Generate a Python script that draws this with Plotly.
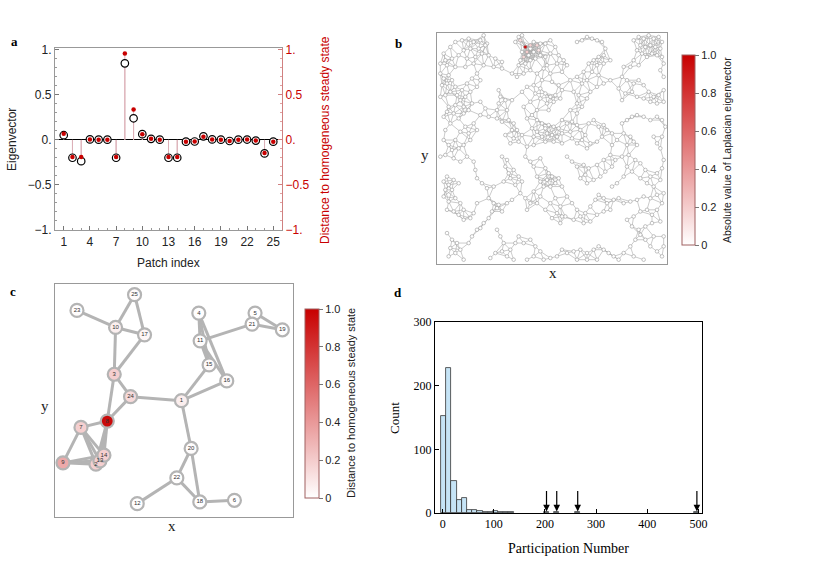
import numpy as np
import plotly.graph_objects as go

W, H = 830, 562
def px(x): return x / W
def py(y): return 1 - y / H

# ---------------- Panel a data ----------------
patch_index = list(range(1, 26))
eigenvector = [0.052, -0.198, -0.236, 0.005, 0.003, 0.003, -0.198, 0.85, 0.24, 0.064,
               0.012, 0.003, -0.198, -0.198, -0.02, -0.018, 0.04, 0.005, 0.003, -0.012,
               0.003, 0.004, -0.008, -0.15, -0.02]
distance = [0.067, -0.19, -0.19, 0.005, 0.003, 0.003, -0.19, 0.96, 0.337, 0.064,
            0.012, 0.003, -0.19, -0.19, -0.02, -0.018, 0.034, 0.005, 0.003, -0.012,
            0.003, 0.004, -0.008, -0.145, -0.02]
a_xticks = [1, 4, 7, 10, 13, 16, 19, 22, 25]
a_yticks = [-1, -0.5, 0, 0.5, 1]
a_yticktext = ["\u22121.", "\u22120.5", "0.", "0.5", "1."]

b_nodes = [
 (40,70),(60,50),(75,35),(95,30),(115,25),(130,35),(150,30),(160,15),(165,45),(145,55),(120,55),(100,60),
 (85,75),(65,85),(45,90),(110,85),(135,80),(155,70),(105,110),(130,100),(75,110),(50,105),(30,100),
 (170,40),(175,75),(195,85),(215,95),(215,115),(190,110),(160,105),
 (255,35),(265,20),(275,15),(270,30),(285,50),(300,45),(310,35),(320,45),(330,40),(325,60),(310,65),
 (295,75),(280,80),(270,90),(265,105),(285,100),(300,90),(315,85),(330,75),(290,65),(275,65),(300,55),
 (345,40),(360,30),(375,50),(360,70),(345,80),(385,75),(400,90),(410,105),(395,125),(380,100),(350,105),
 (440,35),(455,30),(470,20),(485,25),(500,30),(515,35),(525,55),(520,75),(505,80),(490,90),(475,100),
 (500,105),(520,100),(540,90),
 (610,30),(625,20),(640,25),(655,15),(670,25),(685,20),(695,35),(690,55),(675,50),(660,45),(645,50),
 (630,45),(620,60),(635,70),(650,80),(665,70),(680,75),(695,80),(610,90),(600,110),(625,105),(700,100),(580,110),
 (30,130),(40,145),(55,135),(35,165),(50,160),(65,150),(75,170),(60,185),(45,195),(30,200),(80,195),
 (95,180),(90,210),(105,200),(120,185),(110,160),(125,145),(140,130),(150,150),(140,170),(125,220),
 (100,230),(75,225),(55,230),
 (205,180),(210,200),(205,220),(225,210),(245,210),(150,215),(165,235),(200,240),(230,240),
 (245,130),(260,140),(280,130),(300,120),(320,130),(335,150),(330,175),(345,190),(360,200),(375,195),
 (390,205),(370,215),(350,220),(330,205),(315,190),(310,165),(290,170),(275,185),(300,215),(280,230),
 (320,240),(395,180),(385,165),(365,155),(360,130),(340,115),(355,240),
 (420,150),(440,140),(455,160),(470,150),(430,185),(445,195),(440,220),(455,230),(470,205),(480,185),
 (500,170),(520,160),(540,150),(505,135),(485,125),(460,125),(420,240),(440,250),
 (575,140),(590,150),(610,160),(625,150),(640,165),(655,185),(670,200),(685,195),(700,180),(700,215),
 (680,220),(660,215),(640,205),(620,200),(605,185),(585,190),(575,210),(565,175),(700,140),(690,120),
 (40,260),(50,245),(70,250),(85,265),(100,250),(115,240),(60,280),(45,300),(40,330),(55,345),(75,330),
 (90,305),(105,290),(115,310),(120,330),(100,345),(85,355),(65,360),(130,280),(140,300),
 (150,255),(175,260),(200,265),(215,275),(235,270),(250,280),(260,300),(250,325),(240,340),(265,335),
 (275,315),(245,300),(225,315),
 (290,265),(305,255),(320,270),(335,280),(345,295),(355,285),(370,290),(385,295),(395,310),(380,320),
 (365,315),(350,310),(335,320),(320,305),(305,295),(310,320),(345,335),(370,335),(395,270),(395,340),
 (290,350),(310,345),
 (410,280),(425,275),(440,285),(450,300),(465,315),(455,330),(440,340),(425,325),(420,305),(475,280),
 (490,270),(505,290),(520,285),(530,300),(515,320),(500,335),(480,340),(470,355),(545,310),(560,330),(545,345),
 (575,280),(590,270),(605,260),(620,255),(640,260),(660,270),(680,260),(695,270),(705,290),(695,320),
 (680,340),(670,320),(600,320),(610,335),(590,345),(580,310),(620,345),(690,355),
 (30,380),(45,375),(70,385),(90,395),(110,380),(130,395),(135,420),(140,445),(50,440),(40,455),(55,465),
 (70,450),(85,460),(65,480),(45,480),
 (215,380),(230,390),(225,410),(235,430),(250,420),(240,445),(265,440),(275,455),(255,465),(220,455),
 (190,470),(170,475),(155,460),
 (285,380),(300,395),(310,410),(330,385),(345,415),(355,430),(350,450),(365,440),(375,460),(360,470),
 (340,470),(330,455),(320,440),(385,445),(395,470),
 (410,380),(425,395),(440,410),(460,405),(475,415),(465,435),(450,445),(470,460),(490,450),(510,440),
 (525,425),(545,410),(555,390),(540,375),(520,390),(500,405),
 (575,380),(595,375),(615,390),(630,400),(645,420),(660,440),(680,430),(695,415),(700,390),(690,450),
 (670,470),(650,460),(630,445),(605,425),(590,410),(580,440),(560,460),(545,470),
 (40,500),(55,515),(75,505),(90,520),(100,540),(85,555),(70,545),(50,540),(100,570),(120,565),(130,550),(140,520),
 (175,505),(190,520),(200,535),(185,545),(205,525),(215,545),(175,565),(160,580),(150,595),(230,520),(245,510),
 (270,490),(285,505),(300,520),(320,520),(330,500),(310,485),(290,540),(345,540),(360,520),(375,505),
 (390,530),(380,550),(365,565),(395,560),
 (410,500),(425,520),(440,540),(450,560),(465,550),(480,530),(495,510),(505,495),(520,505),(530,520),
 (550,510),(540,540),(520,545),(500,555),(480,575),(460,580),(430,570),(405,560),(390,580),
 (565,505),(580,520),(600,515),(620,510),(640,500),(660,505),(680,495),(700,490),(695,520),(680,540),
 (665,555),(650,540),(630,545),(610,560),(590,570),(605,590),(625,600),(645,590),(665,580),(690,575),
 (50,610),(65,630),(80,640),(60,655),(75,670),(90,660),(55,680),(100,690),(115,640),(125,620),(140,600),
 (200,600),(210,620),(220,640),(215,665),(230,680),(250,690),(240,660),(255,640),(180,685),(195,670),
 (265,620),(280,640),(300,630),(315,650),(330,665),(310,680),(290,690),(340,690),(360,685),(380,680),(395,660),
 (410,670),(430,665),(450,660),(470,670),(490,660),(505,650),(520,660),(535,670),(550,680),(500,690),
 (470,690),(440,690),
 (565,690),(580,670),(600,650),(615,630),(630,615),(645,630),(660,650),(680,665),(695,680),(700,650),
 (700,620),(670,620),(610,680),(640,690),
]
# nodes with nonzero |eigenvector| (index into b_nodes) and their values
b_hot_nodes = [34, 35, 37, 33, 49, 42, 39]
b_hot_values = [0.95, 0.18, 0.15, 0.12, 0.2, 0.15, 0.1]
b_link_radius = 40

# ---------------- Panel c data ----------------
c_labels = list(range(1, 26))
c_x = [455, 198, 253, 507, 676, 614, 153, 232, 99, 257, 511, 322, 210, 222, 538, 591, 344, 510, 758, 484, 667, 441, 141, 302, 314]
c_y = [362, 552, 283, 100, 100, 660, 442, 423, 548, 143, 183, 670, 542, 525, 255, 303, 165, 665, 150, 505, 133, 593, 92, 350, 45]
c_edges = [(23, 10), (25, 10), (25, 17), (10, 17), (10, 3), (17, 3), (3, 24), (3, 8), (24, 8), (24, 1),
           (1, 15), (1, 16), (1, 20), (15, 11), (16, 11), (4, 11), (4, 15), (4, 16), (11, 21), (21, 5),
           (21, 19), (5, 19), (20, 22), (20, 18), (22, 18), (22, 12), (18, 6), (7, 8), (7, 9), (7, 14),
           (7, 13), (7, 2), (8, 14), (8, 13), (8, 2), (9, 14), (9, 13), (9, 2), (14, 13), (14, 2), (2, 13)]

# ---------------- Panel d data ----------------
d_bin_start = -3.3
d_bin_width = 10.15
d_counts = [152, 228, 51, 21, 23, 5, 5, 3, 2, 2, 3, 1, 1, 1]
d_far_x = [203, 223, 264, 497]
d_far_counts = [1, 1, 1, 1]
d_arrow_x = [203, 223, 264, 497]

fig = go.Figure()
SANS = "Liberation Sans"
SERIF = "Liberation Serif"
RED = "#c80000"

# ---- Panel a traces ----
sx, sy = [], []
for i, v in zip(patch_index, eigenvector):
    sx += [i, i, None]; sy += [0, v, None]
for i, v in zip(patch_index, distance):
    sx += [i, i, None]; sy += [0, v, None]
fig.add_trace(go.Scatter(x=sx, y=sy, mode="lines", line=dict(color="#dcb0b8", width=1),
                         xaxis="x", yaxis="y", hoverinfo="skip", showlegend=False))
fig.add_trace(go.Scatter(x=patch_index, y=eigenvector, mode="markers",
                         marker=dict(symbol="circle", size=7.5, color="white", line=dict(color="black", width=1.2)),
                         xaxis="x", yaxis="y", showlegend=False))
fig.add_trace(go.Scatter(x=patch_index, y=distance, mode="markers",
                         marker=dict(symbol="circle", size=4.5, color=RED, line=dict(width=0)),
                         xaxis="x", yaxis="y", showlegend=False))
fig.add_trace(go.Scatter(x=[None], y=[None], xaxis="x", yaxis="y2", showlegend=False))

# ---- Panel b traces ----
pts = np.array(b_nodes, float)
dm = np.sqrt(((pts[:, None, :] - pts[None, :, :]) ** 2).sum(-1))
ii, jj = np.where(np.triu(dm < b_link_radius, 1))
ex, ey = [], []
for i, j in zip(ii, jj):
    ex += [pts[i, 0], pts[j, 0], None]
    ey += [pts[i, 1], pts[j, 1], None]
fig.add_trace(go.Scatter(x=ex, y=ey, mode="lines", line=dict(color="#a8a8a8", width=0.6),
                         xaxis="x3", yaxis="y3", hoverinfo="skip", showlegend=False))
b_vals = np.zeros(len(b_nodes))
for k, v in zip(b_hot_nodes, b_hot_values):
    b_vals[k] = v
order = np.argsort(b_vals)
fig.add_trace(go.Scatter(x=pts[order, 0], y=pts[order, 1], mode="markers",
                         marker=dict(size=3.6, color=b_vals[order], coloraxis="coloraxis",
                                     line=dict(color="#9a9a9a", width=0.6)),
                         xaxis="x3", yaxis="y3", showlegend=False))

# ---- Panel c traces ----
cx, cy = [], []
for a, b in c_edges:
    cx += [c_x[a - 1], c_x[b - 1], None]
    cy += [c_y[a - 1], c_y[b - 1], None]
fig.add_trace(go.Scatter(x=cx, y=cy, mode="lines", line=dict(color="#b4b4b4", width=3),
                         xaxis="x4", yaxis="y4", hoverinfo="skip", showlegend=False))
c_vals = [abs(v) for v in distance]
fig.add_trace(go.Scatter(x=c_x, y=c_y, mode="markers+text", text=[str(l) for l in c_labels],
                         textfont=dict(size=6, color="#333333", family=SANS),
                         marker=dict(size=13, color=c_vals, coloraxis="coloraxis2",
                                     line=dict(color="#b4b4b4", width=2.2)),
                         xaxis="x4", yaxis="y4", showlegend=False))

# ---- Panel d traces ----
centers = [d_bin_start + d_bin_width * (k + 0.5) for k in range(len(d_counts))]
fig.add_trace(go.Bar(x=centers + d_far_x, y=d_counts + d_far_counts, width=d_bin_width,
                     marker=dict(color="#c6e4f6", line=dict(color="#333333", width=0.8)),
                     xaxis="x5", yaxis="y5", showlegend=False))

# ---------------- Layout ----------------
tick_font = dict(family=SANS, size=12, color="#222222")
cb_common = dict(xanchor="left", yanchor="middle", lenmode="pixels", thicknessmode="pixels",
                 xpad=0, ypad=0, outlinecolor="#a06060", outlinewidth=1,
                 tickvals=[0, 0.2, 0.4, 0.6, 0.8, 1.0], ticktext=["0", "0.2", "0.4", "0.6", "0.8", "1.0"],
                 ticks="outside", ticklen=4, tickcolor="#777777",
                 tickfont=dict(family=SANS, size=11, color="#222222"))
scale = [[0, "#ffffff"], [1, RED]]

box = dict(showline=True, linecolor="#999999", linewidth=1.2, mirror=True, showgrid=False,
           zeroline=False, showticklabels=False, ticks="")

fig.update_layout(
    width=W, height=H, margin=dict(l=0, r=0, t=0, b=0, autoexpand=False),
    paper_bgcolor="white", plot_bgcolor="white", bargap=0,
    xaxis=dict(domain=[px(55), px(282)], anchor="y", range=[0, 26], tickvals=a_xticks,
               ticks="inside", ticklen=4, tickcolor="#777777", showline=True, linecolor="#999999",
               linewidth=1.2, mirror=True, showgrid=False, zeroline=False, tickfont=tick_font,
               minor=dict(ticks="inside", ticklen=2, dtick=1, tick0=0, tickcolor="#999999")),
    yaxis=dict(domain=[py(230), py(48)], anchor="x", range=[-1, 1.02], tickvals=a_yticks,
               ticktext=a_yticktext, ticks="inside", ticklen=4, tickcolor="#777777",
               showline=True, linecolor="#999999", linewidth=1.2, showgrid=False,
               zeroline=True, zerolinecolor="black", zerolinewidth=1, tickfont=tick_font,
               minor=dict(ticks="inside", ticklen=2, dtick=0.1, tickcolor="#999999")),
    yaxis2=dict(overlaying="y", anchor="x", side="right", range=[-1, 1.02], tickvals=a_yticks,
                ticktext=a_yticktext, ticks="inside", ticklen=4, tickcolor="#d08080",
                showline=True, linecolor="#d08080", linewidth=1.2, showgrid=False, zeroline=False,
                tickfont=dict(family=SANS, size=12, color=RED),
                minor=dict(ticks="inside", ticklen=2, dtick=0.1, tickcolor="#e0a0a0")),
    xaxis3=dict(domain=[px(437), px(667)], anchor="y3", range=[20, 710], **box),
    yaxis3=dict(domain=[py(264), py(33)], anchor="x3", range=[703, 8], **box),
    xaxis4=dict(domain=[px(55), px(293)], anchor="y4", range=[75, 790], **box),
    yaxis4=dict(domain=[py(517), py(284)], anchor="x4", range=[710, 13], **box),
    xaxis5=dict(domain=[px(435), px(702)], anchor="y5", range=[-15, 507],
                tickvals=[0, 100, 200, 300, 400, 500], ticks="inside", ticklen=4, tickcolor="black",
                showline=True, linecolor="black", linewidth=1, mirror=True, showgrid=False,
                zeroline=False, tickfont=dict(family=SERIF, size=12, color="black")),
    yaxis5=dict(domain=[py(513), py(322)], anchor="x5", range=[0, 300],
                tickvals=[0, 100, 200, 300], ticks="inside", ticklen=4, tickcolor="black",
                showline=True, linecolor="black", linewidth=1, mirror=True, showgrid=False,
                zeroline=False, tickfont=dict(family=SERIF, size=12, color="black")),
    coloraxis=dict(cmin=0, cmax=1, colorscale=scale,
                   colorbar=dict(x=px(682), y=py(150), len=190, thickness=13, **cb_common)),
    coloraxis2=dict(cmin=0, cmax=1, colorscale=scale,
                    colorbar=dict(x=px(305), y=py(403.5), len=189, thickness=14, **cb_common)),
)

ann = []
def add_text(x, y, text, size, family=SANS, color="#222222", angle=0, bold=False):
    t = f"<b>{text}</b>" if bold else text
    ann.append(dict(x=px(x), y=py(y), xref="paper", yref="paper", text=t, showarrow=False,
                    textangle=angle, xanchor="center", yanchor="middle",
                    font=dict(family=family, size=size, color=color)))

add_text(14, 42, "a", 13, SERIF, "black", bold=True)
add_text(398, 43, "b", 13, SERIF, "black", bold=True)
add_text(13, 291, "c", 13, SERIF, "black", bold=True)
add_text(398, 292, "d", 13, SERIF, "black", bold=True)
add_text(12, 140, "Eigenvector", 12, angle=-90)
add_text(168, 263, "Patch index", 12)
add_text(325, 140, "Distance to homogeneous steady state", 12, color=RED, angle=-90)
add_text(553, 273, "x", 15, SERIF, "#222222")
add_text(425, 155, "y", 15, SERIF, "#222222")
add_text(727, 150, "Absolute value of Laplacian eigenvector", 10.5, angle=-90)
add_text(172, 526, "x", 15, SERIF, "#222222")
add_text(45, 406, "y", 15, SERIF, "#222222")
add_text(351, 403, "Distance to homogeneous steady state", 11, angle=-90)
add_text(394, 418, "Count", 13, SERIF, "black", angle=-90)
add_text(568, 548, "Participation Number", 14, SERIF, "black")

for xa in d_arrow_x:
    ann.append(dict(x=xa, y=2.5, ax=xa, ay=37, xref="x5", yref="y5", axref="x5", ayref="y5",
                    showarrow=True, arrowhead=2, arrowsize=1.1, arrowwidth=1.2, arrowcolor="black", text=""))

fig.update_layout(annotations=ann)
fig.write_html("out.html", config={"displayModeBar": False},
               post_script="document.body.style.margin='0';document.body.style.padding='0';document.body.style.overflow='hidden';")
